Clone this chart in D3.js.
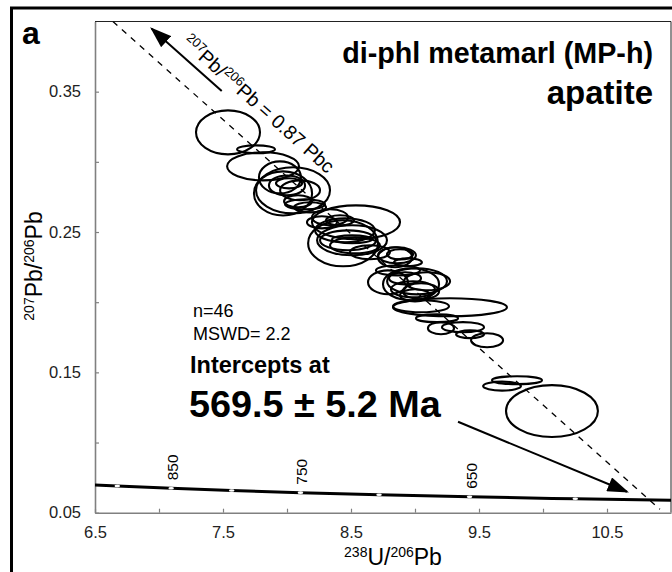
<!DOCTYPE html>
<html>
<head>
<meta charset="utf-8">
<script src="https://cdn.jsdelivr.net/npm/d3@7"></script>
<style>
  body { margin: 0; background: #fff; }
  svg { display: block; font-family: "Liberation Sans", Arial, sans-serif; }
</style>
</head>
<body>
<div id="chart"></div>
<script>
// Apatite analyses: ellipse centres (238U/206Pb, 207Pb/206Pb) and half-axes
const ellipseX  = [7.539, 7.758, 7.813, 7.945, 7.969, 8.047, 8.000, 8.016, 8.141, 8.086, 8.180,
                   8.539, 8.438, 8.508, 8.508, 8.477, 8.336, 8.273, 8.414, 8.648, 8.844, 8.859, 8.883,
                   8.867, 8.969, 9.094, 9.016, 9.047, 8.789, 8.922, 9.047, 9.273, 9.172, 9.203, 9.375,
                   9.430, 9.563, 8.984, 9.797, 9.680, 10.070, 8.531, 8.453, 8.102, 9.000, 8.945];
const ellipseY  = [0.3210, 0.3089, 0.2968, 0.2889, 0.2775, 0.2797, 0.2832, 0.2847, 0.2697, 0.2719, 0.2676,
                   0.2569, 0.2420, 0.2441, 0.2448, 0.2441, 0.2605, 0.2569, 0.2583, 0.2356, 0.2320, 0.2334, 0.2341,
                   0.2227, 0.2128, 0.2149, 0.2149, 0.2078, 0.2142, 0.2170, 0.1971, 0.1964, 0.1886, 0.1815, 0.1822,
                   0.1772, 0.1729, 0.2092, 0.1444, 0.1402, 0.1224, 0.2405, 0.2512, 0.2797, 0.2049, 0.2284];
const ellipseSX = [0.250, 0.148, 0.281, 0.164, 0.227, 0.289, 0.141, 0.102, 0.156, 0.109, 0.125,
                   0.344, 0.273, 0.273, 0.156, 0.219, 0.141, 0.117, 0.109, 0.156, 0.133, 0.148, 0.102,
                   0.172, 0.219, 0.180, 0.234, 0.141, 0.156, 0.125, 0.219, 0.445, 0.164, 0.102, 0.164,
                   0.109, 0.125, 0.172, 0.195, 0.148, 0.359, 0.195, 0.234, 0.156, 0.117, 0.109];
const ellipseSY = [0.0157, 0.0028, 0.0100, 0.0114, 0.0157, 0.0164, 0.0071, 0.0036, 0.0036, 0.0043, 0.0036,
                   0.0121, 0.0164, 0.0107, 0.0028, 0.0071, 0.0057, 0.0043, 0.0036, 0.0050, 0.0071, 0.0057, 0.0036,
                   0.0036, 0.0114, 0.0064, 0.0093, 0.0057, 0.0085, 0.0043, 0.0043, 0.0064, 0.0028, 0.0043, 0.0036,
                   0.0028, 0.0050, 0.0057, 0.0028, 0.0032, 0.0185, 0.0057, 0.0085, 0.0071, 0.0043, 0.0028];

// Concordia curve points (age in Ma)
const concAge = [922, 900, 850, 800, 750, 700, 650, 600, 561];
const concX   = [6.5, 6.674, 7.095, 7.568, 8.105, 8.719, 9.426, 10.252, 11.0];
const concY   = [0.0698, 0.0690, 0.0674, 0.0658, 0.0643, 0.0628, 0.0613, 0.0599, 0.0588];
const concMarks  = [900, 850, 800, 750, 700, 650, 600];
const concLabels = [850, 750, 650];

// Regression line and arrows (data coordinates)
const mixLine = [[6.64, 0.400], [10.914, 0.0524]];
const arrowUp = [[7.49, 0.3504], [6.943, 0.3948]];
const arrowDown = [[9.336, 0.1148], [10.656, 0.0649]];

const xTicks = [6.5, 7.0, 7.5, 8.0, 8.5, 9.0, 9.5, 10.0, 10.5];
const xLabels = [6.5, 7.5, 8.5, 9.5, 10.5];
const yTicks = [0.05, 0.10, 0.15, 0.20, 0.25, 0.30, 0.35];
const yLabels = [0.05, 0.15, 0.25, 0.35];

const width = 672, height = 572;
const plot = {left: 95, right: 671, top: 21.5, bottom: 512.7};

const svg = d3.select('#chart').append('svg')
  .attr('width', width)
  .attr('height', height);

svg.append('rect').attr('width', width).attr('height', height).attr('fill', '#fff');

// outer panel frame
svg.append('rect')
  .attr('x', 11.5).attr('y', 8)
  .attr('width', 700).attr('height', 620)
  .attr('fill', 'none').attr('stroke', '#000').attr('stroke-width', 3);

const x = d3.scaleLinear().domain([6.5, 11.0]).range([plot.left, plot.right]);
const y = d3.scaleLinear().domain([0.05, 0.40]).range([plot.bottom, plot.top]);

// top / right frame of plot
svg.append('path')
  .attr('d', `M${plot.left},${plot.top}H${plot.right}V${plot.bottom}`)
  .attr('fill', 'none').attr('stroke', '#222').attr('stroke-width', 1);

// axes
const xAxis = d3.axisBottom(x)
  .tickValues(xTicks)
  .tickSize(-4).tickSizeOuter(0).tickPadding(14)
  .tickFormat(d => xLabels.includes(d) ? d3.format('.1f')(d) : '');
const yAxis = d3.axisLeft(y)
  .tickValues(yTicks)
  .tickSize(-4).tickSizeOuter(0).tickPadding(14)
  .tickFormat(d => yLabels.includes(d) ? d3.format('.2f')(d) : '');

const gx = svg.append('g').attr('transform', `translate(0,${plot.bottom})`).call(xAxis);
const gy = svg.append('g').attr('transform', `translate(${plot.left},0)`).call(yAxis);
[gx, gy].forEach(g => {
  g.select('.domain').attr('stroke', '#808080').attr('stroke-width', 1.6);
  g.selectAll('.tick line').attr('stroke', '#808080').attr('stroke-width', 1.2);
  g.selectAll('.tick text')
    .attr('fill', '#222')
    .style('font-size', '16.5px')
    .style('font-family', '"Liberation Sans", Arial, sans-serif');
});

// text with superscripts
function richText(sel, parts, size, supSize) {
  let shift = 0;
  parts.forEach(p => {
    const target = p.sup ? -0.36 * size : 0;
    const ts = sel.append('tspan').attr('dy', target - shift).text(p.t);
    if (p.sup) ts.style('font-size', supSize + 'px');
    shift = target;
  });
}

// axis titles
const xTitle = svg.append('text')
  .attr('x', 393).attr('y', 565)
  .attr('text-anchor', 'middle')
  .style('font-size', '23px');
richText(xTitle, [{t: '238', sup: true}, {t: 'U/'}, {t: '206', sup: true}, {t: 'Pb'}], 23, 14);

const yTitle = svg.append('text')
  .attr('transform', 'translate(42,266) rotate(-90)')
  .attr('text-anchor', 'middle')
  .style('font-size', '23px');
richText(yTitle, [{t: '207', sup: true}, {t: 'Pb/'}, {t: '206', sup: true}, {t: 'Pb'}], 23, 14);

// clip for plot area
svg.append('clipPath').attr('id', 'clip')
  .append('rect')
  .attr('x', plot.left).attr('y', plot.top)
  .attr('width', plot.right - plot.left).attr('height', plot.bottom - plot.top);

const g = svg.append('g').attr('clip-path', 'url(#clip)');

// dashed regression line
g.append('line')
  .attr('x1', x(mixLine[0][0])).attr('y1', y(mixLine[0][1]))
  .attr('x2', x(mixLine[1][0])).attr('y2', y(mixLine[1][1]))
  .attr('stroke', '#000').attr('stroke-width', 1.3)
  .attr('stroke-dasharray', '6,6');

// concordia
const concPts = concX.map((d, i) => ({x: d, y: concY[i], age: concAge[i]}));
g.append('path')
  .datum(concPts)
  .attr('d', d3.line().x(d => x(d.x)).y(d => y(d.y)).curve(d3.curveMonotoneX))
  .attr('fill', 'none').attr('stroke', '#000').attr('stroke-width', 3);

g.selectAll('.cmark')
  .data(concPts.filter(d => concMarks.includes(d.age)))
  .join('ellipse')
  .attr('class', 'cmark')
  .attr('cx', d => x(d.x)).attr('cy', d => y(d.y))
  .attr('rx', 2.8).attr('ry', 1.3)
  .attr('fill', '#fff');

svg.selectAll('.clabel')
  .data(concPts.filter(d => concLabels.includes(d.age)))
  .join('text')
  .attr('class', 'clabel')
  .attr('transform', d => `translate(${x(d.x) + 7},${y(d.y) - 8}) rotate(-90)`)
  .style('font-size', '15.5px')
  .text(d => d.age);

// ellipses
const ell = ellipseX.map((d, i) => ({x: d, y: ellipseY[i], sx: ellipseSX[i], sy: ellipseSY[i]}));
g.selectAll('.ell')
  .data(ell)
  .join('ellipse')
  .attr('class', 'ell')
  .attr('cx', d => x(d.x)).attr('cy', d => y(d.y))
  .attr('rx', d => x(d.x + d.sx) - x(d.x))
  .attr('ry', d => y(d.y) - y(d.y + d.sy))
  .attr('fill', 'none').attr('stroke', '#000').attr('stroke-width', 2.1);

// arrows
const defs = svg.append('defs');
defs.append('marker')
  .attr('id', 'head')
  .attr('markerUnits', 'userSpaceOnUse')
  .attr('viewBox', '0 0 20 14')
  .attr('refX', 18).attr('refY', 7)
  .attr('markerWidth', 22).attr('markerHeight', 15)
  .attr('orient', 'auto')
  .append('path').attr('d', 'M0,0L20,7L0,14Z').attr('fill', '#000');

[arrowUp, arrowDown].forEach(a => {
  svg.append('line')
    .attr('x1', x(a[0][0])).attr('y1', y(a[0][1]))
    .attr('x2', x(a[1][0])).attr('y2', y(a[1][1]))
    .attr('stroke', '#000').attr('stroke-width', 2)
    .attr('marker-end', 'url(#head)');
});

// rotated label along the regression line
const ang = Math.atan2(y(mixLine[1][1]) - y(mixLine[0][1]), x(mixLine[1][0]) - x(mixLine[0][0])) * 180 / Math.PI;
const lineLabel = svg.append('text')
  .attr('transform', `translate(181,44) rotate(${ang})`)
  .style('font-size', '19.5px');
richText(lineLabel, [{t: '207', sup: true}, {t: 'Pb/'}, {t: '206', sup: true}, {t: 'Pb = 0.87 Pbc'}], 19.5, 13);

// panel letter and titles
svg.append('text').attr('x', 22).attr('y', 44)
  .style('font-size', '32px').style('font-weight', 'bold').text('a');
svg.append('text').attr('x', 653).attr('y', 63).attr('text-anchor', 'end')
  .style('font-size', '28.7px').style('font-weight', 'bold').text('di-phl metamarl (MP-h)');
svg.append('text').attr('x', 653).attr('y', 104).attr('text-anchor', 'end')
  .style('font-size', '33px').style('font-weight', 'bold').text('apatite');

svg.append('text').attr('x', 193).attr('y', 317)
  .style('font-size', '18px').text('n=46');
svg.append('text').attr('x', 193).attr('y', 340)
  .style('font-size', '18px').text('MSWD= 2.2');
svg.append('text').attr('x', 190).attr('y', 373)
  .style('font-size', '23.5px').style('font-weight', 'bold').text('Intercepts at');
svg.append('text').attr('x', 189).attr('y', 417)
  .style('font-size', '37.8px').style('font-weight', 'bold').text('569.5 \u00B1 5.2 Ma');
</script>
</body>
</html>
